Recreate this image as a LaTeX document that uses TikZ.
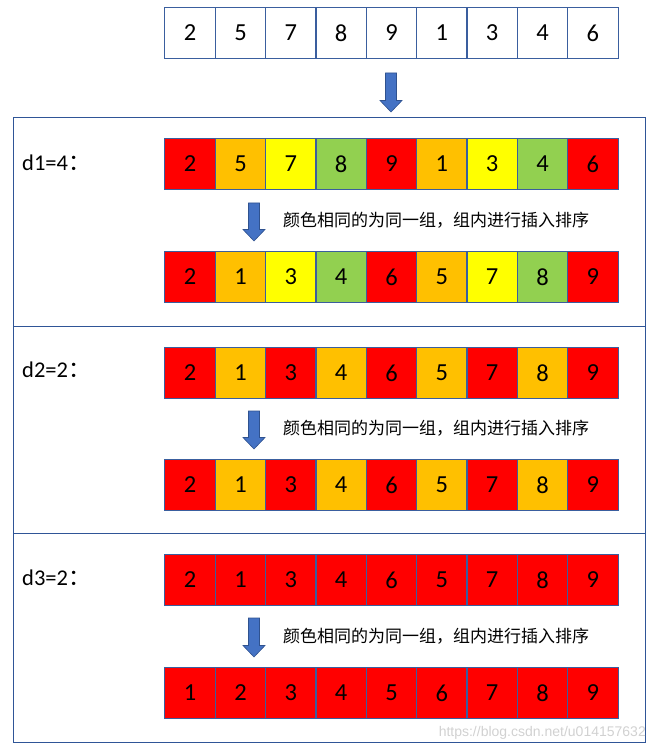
\documentclass[tikz,border=0pt]{standalone}
\usepackage{fontspec}
\setmainfont{Carlito}
\newfontfamily\cjk{Noto Sans CJK SC}
\newfontfamily\webfont{Liberation Sans}

\definecolor{cred}{HTML}{FF0000}
\definecolor{corange}{HTML}{FFC000}
\definecolor{cyellow}{HTML}{FFFF00}
\definecolor{cgreen}{HTML}{92D050}
\definecolor{cellline}{HTML}{3A5E9E}
\definecolor{frameline}{HTML}{2F5597}
\definecolor{arrowfill}{HTML}{4472C4}
\definecolor{arrowline}{HTML}{2F528F}

\tikzset{
  cell/.style={minimum width=50.33pt, minimum height=50pt, inner sep=0pt,
    font=\fontsize{24.5}{24.5}\selectfont},
  cellbox/.style={draw=cellline, line width=1pt},
  frame/.style={draw=frameline, line width=1pt},
  note/.style={anchor=west, inner sep=0pt, font=\cjk\fontsize{17}{17}\selectfont},
  steptag/.style={anchor=west, inner sep=0pt, font=\fontsize{22.5}{22.5}\selectfont},
  blockarrow/.style={fill=arrowfill, draw=arrowline, line width=0.6pt}
}

% one row of nine cells: name, y, value/colour list
\newcommand\cellrow[3]{%
  \foreach \v/\c [count=\i] in {#3}
    \node[cell, fill=\c] (#1-\i) at ({165+50.33*(\i-0.5)}, #2) {\v};
  \foreach \i in {1,...,9}
    \draw[cellbox] (#1-\i.north west) rectangle (#1-\i.south east);
}
% block arrow pointing down: x, top y, tip y
\newcommand\downblock[3]{%
  \draw[blockarrow] (#1-5.5,#2) -- (#1+5.5,#2) -- (#1+5.5,#3-11.5)
    -- (#1+11,#3-11.5) -- (#1,#3) -- (#1-11,#3-11.5) -- (#1-5.5,#3-11.5) -- cycle;
}

\begin{document}
\begin{tikzpicture}[x=1pt, y=-1pt]
  \useasboundingbox (0,0) rectangle (655,751);

  % input
  \cellrow{in}{33}{2/white,5/white,7/white,8/white,9/white,1/white,3/white,4/white,6/white}
  \downblock{391}{73}{112}

  % frame with three passes
  \draw[frame] (13,118) rectangle (645,742);
  \draw[frame] (13,326) -- (645,326);
  \draw[frame] (13,533) -- (645,533);

  % d1 = 4
  \node[steptag] (t1) at (22,163) {d1=4{\cjk ：}};
  \cellrow{a1}{164}{2/cred,5/corange,7/cyellow,8/cgreen,9/cred,1/corange,3/cyellow,4/cgreen,6/cred}
  \downblock{254}{203}{241}
  \node[note] (n1) at (283,220) {颜色相同的为同一组，组内进行插入排序};
  \cellrow{b1}{277}{2/cred,1/corange,3/cyellow,4/cgreen,6/cred,5/corange,7/cyellow,8/cgreen,9/cred}

  % d2 = 2
  \node[steptag] (t2) at (22,370) {d2=2{\cjk ：}};
  \cellrow{a2}{373}{2/cred,1/corange,3/cred,4/corange,6/cred,5/corange,7/cred,8/corange,9/cred}
  \downblock{254}{411}{449}
  \node[note] (n2) at (283,428) {颜色相同的为同一组，组内进行插入排序};
  \cellrow{b2}{485}{2/cred,1/corange,3/cred,4/corange,6/cred,5/corange,7/cred,8/corange,9/cred}

  % d3 = 2
  \node[steptag] (t3) at (22,578) {d3=2{\cjk ：}};
  \cellrow{a3}{580}{2/cred,1/cred,3/cred,4/cred,6/cred,5/cred,7/cred,8/cred,9/cred}
  \downblock{254}{618}{657}
  \node[note] (n3) at (283,636) {颜色相同的为同一组，组内进行插入排序};
  \cellrow{b3}{693}{1/cred,2/cred,3/cred,4/cred,5/cred,6/cred,7/cred,8/cred,9/cred}

  \node[anchor=east, inner sep=0pt, text=black!18, font=\webfont\fontsize{14}{14}\selectfont]
    (web) at (646,733) {https://blog.csdn.net/u014157632};
\end{tikzpicture}
\end{document}
